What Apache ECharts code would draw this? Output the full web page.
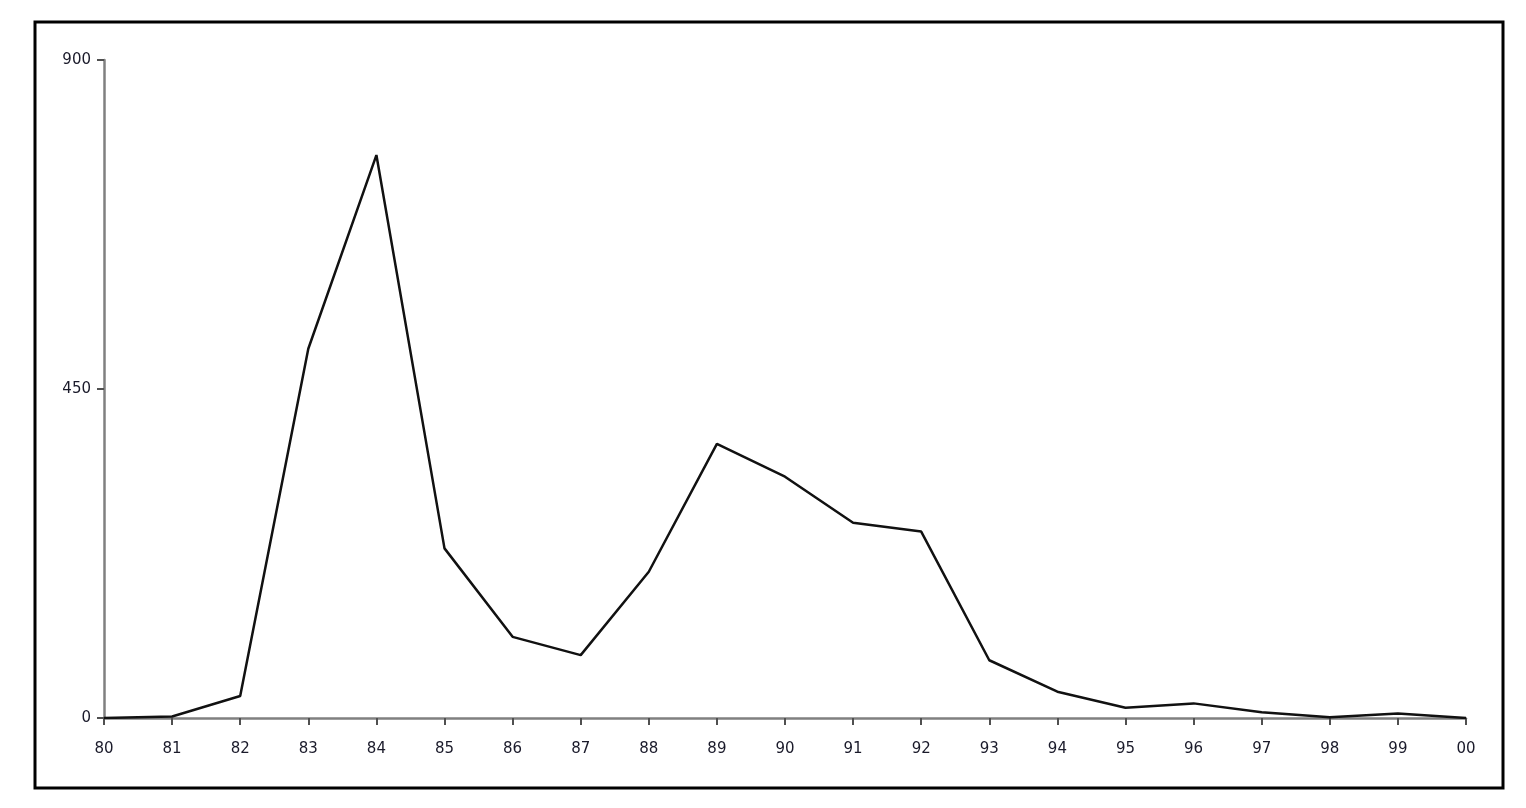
<!DOCTYPE html>
<html>
<head>
<meta charset="utf-8">
<script src="https://cdn.jsdelivr.net/npm/echarts@6/dist/echarts.min.js"></script>
<style>
html,body{margin:0;padding:0;background:#fff;}
#chart{width:1526px;height:808px;}
</style>
</head>
<body>
<div id="chart"></div>
<script>
const categories = ['80','81','82','83','84','85','86','87','88','89','90','91','92','93','94','95','96','97','98','99','00'];
const values = [0, 2, 30, 505, 770, 232, 111, 86, 200, 375, 330, 267, 255, 79, 36, 14, 20, 8, 1, 6, 0];
const yTicks = [0, 450, 900];

const chart = echarts.init(document.getElementById('chart'));
chart.setOption({
  animation: false,
  backgroundColor: '#fff',
  graphic: [{
    type: 'rect',
    shape: {x: 35, y: 22, width: 1468, height: 766},
    style: {fill: 'none', stroke: '#000', lineWidth: 3}
  }],
  grid: {left: 104, right: 60, top: 60, bottom: 90, containLabel: false},
  xAxis: {
    type: 'category',
    data: categories,
    boundaryGap: false,
    axisLine: {lineStyle: {color: '#808080', width: 2.5}},
    axisTick: {show: true, length: 7, lineStyle: {color: '#505050', width: 2}},
    axisLabel: {color: '#1a1a2a', fontSize: 15, fontFamily: 'DejaVu Sans', margin: 24},
    splitLine: {show: false}
  },
  yAxis: {
    type: 'value',
    min: 0, max: 900, interval: 450,
    axisLine: {show: true, lineStyle: {color: '#808080', width: 2.5}},
    axisTick: {show: true, length: 7, lineStyle: {color: '#505050', width: 2}},
    axisLabel: {color: '#1a1a2a', fontSize: 15, fontFamily: 'DejaVu Sans', margin: 13,
      formatter: v => yTicks.includes(v) ? String(v) : ''},
    splitLine: {show: false}
  },
  series: [{
    type: 'line',
    data: values,
    symbol: 'none',
    lineStyle: {color: '#111', width: 2.5},
    z: 3
  }]
});
</script>
</body>
</html>
